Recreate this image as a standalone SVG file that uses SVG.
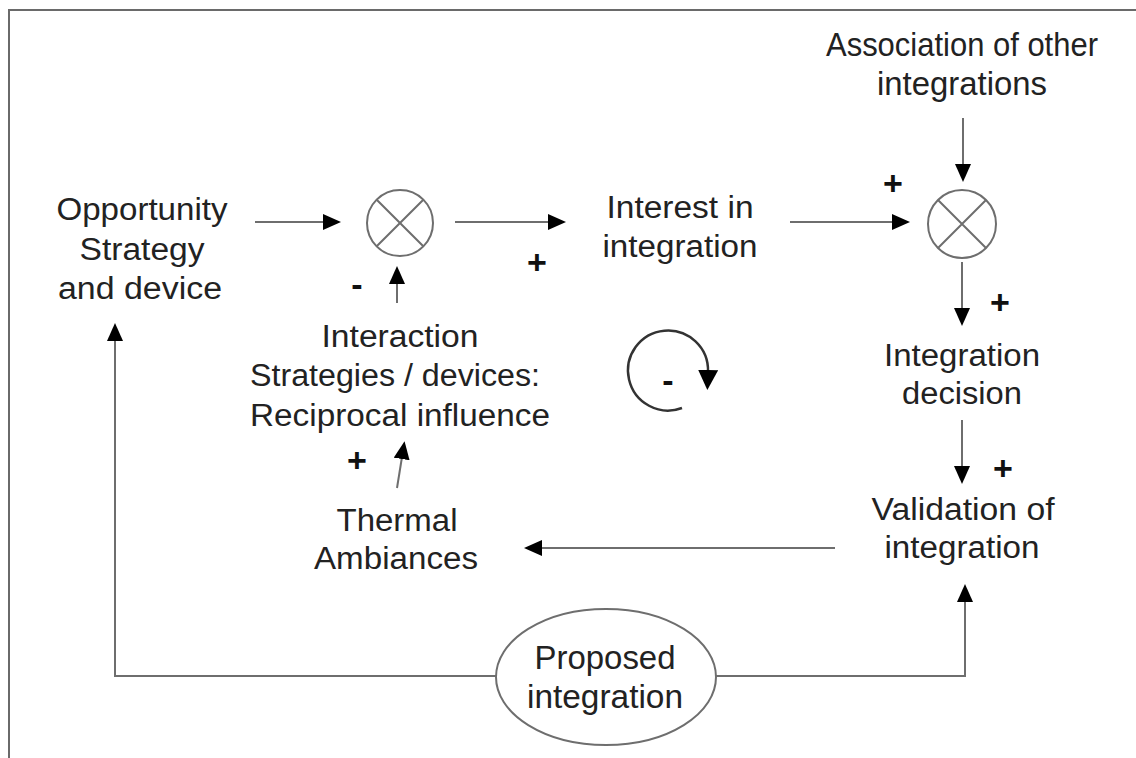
<svg xmlns="http://www.w3.org/2000/svg" width="1136" height="758" viewBox="0 0 1136 758">
<defs>
<style>
.t{font-family:"Liberation Sans",Arial,sans-serif;font-size:31px;fill:#222;text-anchor:middle}
.n{font-family:"Liberation Sans",Arial,sans-serif;font-size:33px;fill:#222;text-anchor:middle}
.ln{stroke:#6e6e6e;stroke-width:2;fill:none}
.sg{font-family:"Liberation Sans",Arial,sans-serif;font-size:34px;font-weight:bold;fill:#111;text-anchor:middle}
.sym{stroke:#6e6e6e;stroke-width:2;fill:#fff}
.loop{stroke:#333;stroke-width:2.5;fill:none}
</style>
<marker id="ah" viewBox="0 0 18 16" refX="2" refY="8" markerWidth="18" markerHeight="16" markerUnits="userSpaceOnUse" orient="auto">
<path d="M0,0 L18,8 L0,16 Z" fill="#000"/>
</marker>
<marker id="ahl" viewBox="0 0 20 20" refX="2" refY="10" markerWidth="20" markerHeight="20" markerUnits="userSpaceOnUse" orient="auto">
<path d="M0,0 L20,10 L0,20 Z" fill="#000"/>
</marker>
</defs>
<rect width="1136" height="758" fill="#fff"/>
<path d="M9,758 V10 H1136" stroke="#6a6a6a" stroke-width="2" fill="none"/>

<g id="connectors">
<line class="ln" x1="255" y1="222" x2="325" y2="222" marker-end="url(#ah)"/>
<line class="ln" x1="455" y1="222" x2="550" y2="222" marker-end="url(#ah)"/>
<line class="ln" x1="397" y1="303" x2="397" y2="282" marker-end="url(#ah)"/>
<line class="ln" x1="790" y1="222" x2="894" y2="222" marker-end="url(#ah)"/>
<line class="ln" x1="963" y1="118" x2="963" y2="166" marker-end="url(#ah)"/>
<line class="ln" x1="962" y1="262" x2="962" y2="310" marker-end="url(#ah)"/>
<line class="ln" x1="962" y1="420" x2="962" y2="468" marker-end="url(#ah)"/>
<line class="ln" x1="835" y1="548" x2="540" y2="548" marker-end="url(#ah)"/>
<line class="ln" x1="397" y1="488" x2="402" y2="457" marker-end="url(#ah)"/>
<path class="ln" d="M497,676 H115 V339" marker-end="url(#ah)"/>
<path class="ln" d="M716,676 H965 V600" marker-end="url(#ah)"/>
<path class="loop" d="M682,408 A40,40 0 1 1 708,372" marker-end="url(#ahl)"/>
</g>

<g id="signs">
<text class="sg" x="537" y="274">+</text>
<text class="sg" x="357" y="296">-</text>
<text class="sg" x="893" y="195">+</text>
<text class="sg" x="1000" y="314">+</text>
<text class="sg" x="1003" y="480">+</text>
<text class="sg" x="357" y="472">+</text>
<text class="sg" x="668" y="392">-</text>
</g>

<g id="node-opportunity">
<text class="t" x="142" y="220" textLength="171" lengthAdjust="spacingAndGlyphs">Opportunity</text>
<text class="t" x="142" y="260" textLength="125" lengthAdjust="spacingAndGlyphs">Strategy</text>
<text class="t" x="140" y="299" textLength="164" lengthAdjust="spacingAndGlyphs">and device</text>
</g>

<g id="node-mult1">
<circle class="sym" cx="400" cy="223" r="33"/>
<path class="ln" d="M376.7,199.7 L423.3,246.3 M423.3,199.7 L376.7,246.3"/>
</g>

<g id="node-interest">
<text class="t" x="680" y="218" textLength="147" lengthAdjust="spacingAndGlyphs">Interest in</text>
<text class="t" x="680" y="257" textLength="155" lengthAdjust="spacingAndGlyphs">integration</text>
</g>

<g id="node-association">
<text class="n" x="962" y="56" textLength="272" lengthAdjust="spacingAndGlyphs">Association of other</text>
<text class="n" x="962" y="95" textLength="170" lengthAdjust="spacingAndGlyphs">integrations</text>
</g>

<g id="node-mult2">
<circle class="sym" cx="962" cy="224" r="34"/>
<path class="ln" d="M938,200 L986,248 M986,200 L938,248"/>
</g>

<g id="node-interaction">
<text class="t" x="400" y="347" textLength="157" lengthAdjust="spacingAndGlyphs">Interaction</text>
<text class="t" x="395" y="386" textLength="290" lengthAdjust="spacingAndGlyphs">Strategies / devices:</text>
<text class="t" x="400" y="426" textLength="300" lengthAdjust="spacingAndGlyphs">Reciprocal influence</text>
</g>

<g id="node-decision">
<text class="t" x="962" y="366" textLength="156" lengthAdjust="spacingAndGlyphs">Integration</text>
<text class="t" x="962" y="404" textLength="120" lengthAdjust="spacingAndGlyphs">decision</text>
</g>

<g id="node-validation">
<text class="t" x="963" y="520" textLength="183" lengthAdjust="spacingAndGlyphs">Validation of</text>
<text class="t" x="962" y="558" textLength="155" lengthAdjust="spacingAndGlyphs">integration</text>
</g>

<g id="node-thermal">
<text class="t" x="397" y="531" textLength="121" lengthAdjust="spacingAndGlyphs">Thermal</text>
<text class="t" x="396" y="569" textLength="164" lengthAdjust="spacingAndGlyphs">Ambiances</text>
</g>

<g id="node-proposed">
<ellipse class="sym" cx="606" cy="677" rx="110" ry="68"/>
<text class="n" x="605" y="669" textLength="141" lengthAdjust="spacingAndGlyphs">Proposed</text>
<text class="n" x="605" y="708" textLength="156" lengthAdjust="spacingAndGlyphs">integration</text>
</g>
</svg>
